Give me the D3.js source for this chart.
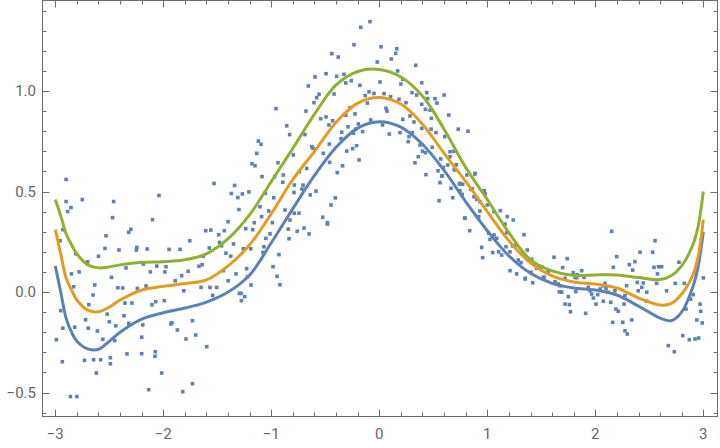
<!DOCTYPE html>
<html>
  <head>
    <meta charset="UTF-8" />
    <title>Quantile regression curves</title>
    <script src="https://d3js.org/d3.v7.min.js"></script>
    <style>
      body {
        margin: 0;
        background: #fff;
      }
      text {
        font-family: Roboto, 'Noto Sans', sans-serif;
      }
    </style>
  </head>

  <body>
    <div id="main"></div>
    <script type="text/javascript">
      const width = 720;
      const height = 448;

      // sample points
      const points = [
        [-2.9, 0.56], [-2.9, 0.45], [-2.885, 0.4], [-2.855, 0.42], [-2.75, 0.46],
        [-2.47, 0.37], [-2.46, 0.45], [-2.1, 0.36], [-2.04, 0.48], [-1.53, 0.54],
        [-1.34, 0.53], [-1.37, 0.49], [-1.31, 0.47], [-1.3, 0.41], [-1.4, 0.35],
        [-2.956, 0.255], [-2.99, -0.237], [-2.95, -0.093], [-2.93, -0.18], [-2.935, -0.347],
        [-2.86, -0.52], [-2.8, -0.52], [-2.85, 0.09], [-2.83, 0.026], [-2.78, 0.1],
        [-2.81, 0.19], [-2.82, -0.175], [-2.73, -0.34], [-2.7, 0.15], [-2.69, -0.063],
        [-2.72, -0.138], [-2.695, -0.18], [-2.65, -0.015], [-2.635, 0.035], [-2.645, -0.337],
        [-2.62, -0.403], [-2.61, -0.194], [-2.6, 0.178], [-2.58, -0.337], [-2.56, -0.235],
        [-2.54, 0.217], [-2.53, 0.28], [-2.52, -0.11], [-2.5, -0.148], [-2.49, -0.327],
        [-2.49, -0.357], [-2.48, 0.073], [-2.45, -0.242], [-2.44, -0.168], [-2.41, 0.209],
        [-2.42, 0.021], [-2.376, 0.02], [-2.364, -0.118], [-2.355, -0.055], [-2.345, 0.12],
        [-2.336, -0.308], [-2.32, -0.156], [-2.32, 0.297], [-2.3, 0.312], [-2.29, -0.055],
        [-2.25, 0.209], [-2.245, 0.222], [-2.24, 0.018], [-2.2, -0.307], [-2.2, -0.225],
        [-2.19, -0.164], [-2.185, 0.139], [-2.16, 0.03], [-2.15, 0.214], [-2.135, -0.486],
        [-2.12, 0.1], [-2.105, -0.063], [-2.077, -0.32], [-2.074, -0.297], [-2.07, -0.048],
        [-2.06, 0.129], [-2.015, -0.403], [-1.99, -0.043], [-1.985, 0.1], [-1.975, 0.126],
        [-1.947, 0.212], [-1.93, -0.159], [-1.92, -0.153], [-1.89, 0.056], [-1.87, -0.189],
        [-1.845, 0.212], [-1.83, 0.081], [-1.82, -0.496], [-1.81, 0.006], [-1.79, -0.234],
        [-1.77, 0.103], [-1.755, 0.255], [-1.73, -0.456], [-1.73, -0.143], [-1.7, -0.214],
        [-1.67, 0.128], [-1.65, 0.023], [-1.64, 0.136], [-1.63, 0.178], [-1.607, 0.305],
        [-1.598, -0.272], [-1.574, 0.219], [-1.568, 0.023], [-1.56, 0.308], [-1.543, -0.017],
        [-1.506, 0.023], [-1.487, 0.285], [-1.48, 0.247], [-1.46, 0.23], [-1.444, 0.106],
        [-1.435, 0.305], [-1.42, 0.193], [-1.4, 0.056], [-1.376, 0.178], [-1.35, 0.239],
        [-1.327, 0.09], [-1.296, -0.007], [-2.93, 0.31],
        [-1.237, 0.315], [-1.172, 0.31], [-1.26, 0.215], [-1.19, 0.215], [-1.228, 0.116],
        [-1.22, 0.076], [-1.188, 0.035], [-1.28, -0.007], [-1.246, -0.023], [-1.277, -0.043],
        [-1.05, 0.267], [-1.068, 0.225], [-1.077, 0.197], [-1.012, 0.289], [-0.929, 0.186],
        [-0.984, 0.126], [-0.947, 0.078], [-0.92, 0.036], [-0.843, 0.313], [-0.836, 0.265],
        [-0.76, 0.302], [-0.697, 0.318], [-0.65, 0.289], [-0.48, 0.338], [0.837, 0.305],
        [-0.086, 1.345], [-0.172, 1.317], [-0.234, 1.23], [-0.44, 1.186], [-0.38, 1.169],
        [0.016, 1.22], [0.161, 1.21], [0.152, 1.187], [0.111, 1.159], [-0.019, 1.144],
        [0.337, 1.128], [0.17, 1.1], [-0.493, 1.086], [-0.595, 1.07], [-0.395, 1.073],
        [-0.327, 1.083], [-0.26, 1.051], [-0.31, 1.04], [0.007, 1.045], [0.217, 1.058],
        [0.393, 1.041], [-0.657, 1.025], [-0.18, 1.028], [-0.095, 0.996], [-0.049, 0.988],
        [-0.13, 0.977], [-0.558, 0.984], [-0.58, 0.967], [-0.605, 0.942], [-0.419, 0.985],
        [-0.111, 0.94], [0.044, 0.987], [0.105, 0.972], [0.182, 0.959], [0.247, 0.942],
        [0.303, 0.992], [0.346, 0.98], [0.439, 0.992], [0.448, 0.962], [0.516, 0.962],
        [0.6, 0.98], [0.393, 0.934], [0.427, 0.909], [0.534, 0.94], [0.062, 0.914],
        [0.071, 0.9], [-0.956, 0.912], [-0.679, 0.9], [-0.493, 0.871], [-0.543, 0.862],
        [-0.432, 0.852], [-0.271, 0.917], [-0.225, 0.886], [-0.194, 0.836], [-0.29, 0.822],
        [-0.216, 0.811], [-0.154, 0.798], [-0.08, 0.856], [0.03, 0.831], [0.093, 0.786],
        [0.217, 0.859], [0.284, 0.876], [0.321, 0.846], [0.192, 0.793], [0.275, 0.773],
        [0.306, 0.793], [0.268, 0.748], [0.393, 0.814], [0.482, 0.864], [0.525, 0.793],
        [0.643, 0.88], [0.731, 0.81], [0.821, 0.8], [0.606, 0.773], [0.655, 0.698],
        [0.713, 0.633], [-0.857, 0.827], [-0.83, 0.783], [-0.688, 0.783], [-0.466, 0.831],
        [-0.348, 0.795], [-0.355, 0.763], [-0.302, 0.701], [-0.247, 0.713], [-0.21, 0.728],
        [-0.188, 0.657], [-0.463, 0.736], [-0.626, 0.723], [-0.614, 0.715], [-0.519, 0.69],
        [-0.34, 0.628], [-0.389, 0.594], [-0.796, 0.682], [-0.938, 0.643], [-1.179, 0.638],
        [-1.151, 0.628], [-1.135, 0.69], [-1.12, 0.751], [-1.095, 0.735], [-1.086, 0.574],
        [-1.207, 0.498], [-1.268, 0.488], [-0.969, 0.574], [-0.894, 0.546], [-0.889, 0.582],
        [-1.056, 0.491], [-0.978, 0.469], [-1.105, 0.424], [-1.024, 0.403], [-1.158, 0.345],
        [-0.787, 0.532], [-0.706, 0.532], [-0.716, 0.512], [-0.74, 0.599], [-0.672, 0.615],
        [-0.639, 0.483], [-0.586, 0.502], [-0.407, 0.468], [-0.447, 0.433], [-0.524, 0.372],
        [-0.481, 0.345], [-0.873, 0.408], [-0.827, 0.358], [-0.787, 0.392], [-0.744, 0.392],
        [-0.99, 0.345], [-1.09, 0.375], [-0.79, 0.495], [-0.24, 0.79], [-0.31, 0.88],
        [-0.46, 0.645],
        [0.886, 0.59], [0.432, 0.584], [0.33, 0.643], [0.361, 0.673], [0.377, 0.731],
        [0.544, 0.603], [0.562, 0.544], [0.584, 0.579], [0.553, 0.454], [0.664, 0.516],
        [0.68, 0.469], [0.747, 0.541], [0.766, 0.486], [0.796, 0.367], [0.861, 0.514],
        [0.877, 0.474], [0.932, 0.449], [0.694, 0.61], [0.427, 0.693],
        [0.2, 1.035], [0.47, 0.905], [0.48, 0.81], [0.49, 0.72], [0.69, 0.7], [0.655, 0.673],
        [0.4, 0.701], [0.568, 0.662], [0.578, 0.577], [0.593, 0.62], [0.633, 0.632],
        [0.7, 0.607], [0.741, 0.537], [0.772, 0.536], [0.81, 0.582], [0.886, 0.587],
        [0.747, 0.504], [0.763, 0.483], [0.847, 0.511], [0.902, 0.461], [0.972, 0.502],
        [0.981, 0.488], [1.0, 0.433], [0.932, 0.403], [1.062, 0.4], [1.12, 0.405],
        [1.185, 0.375], [1.24, 0.358], [1.164, 0.338], [0.92, 0.375], [0.79, 0.368],
        [1.013, 0.292], [1.062, 0.284], [1.025, 0.262], [1.087, 0.267], [1.18, 0.295],
        [1.34, 0.285], [0.948, 0.222], [0.957, 0.171], [1.05, 0.196], [1.105, 0.2],
        [1.133, 0.184], [1.173, 0.225], [1.235, 0.229], [1.266, 0.234], [1.21, 0.2],
        [1.37, 0.209], [1.287, 0.159], [1.312, 0.146], [1.21, 0.106], [1.272, 0.09],
        [1.352, 0.068], [1.411, 0.163], [1.42, 0.046], [1.457, 0.118], [1.503, 0.126],
        [1.525, 0.073], [1.565, 0.101], [1.618, 0.173], [1.627, 0.051], [1.657, 0.04],
        [1.667, 0.001], [1.698, 0.121], [1.72, 0.068], [1.74, 0.166], [1.75, -0.023],
        [1.796, 0.096], [1.828, 0.071], [1.82, 0.002], [0.972, 0.504],
        [1.35, 0.065], [1.405, 0.098], [1.488, 0.123], [1.519, 0.073], [1.673, 0.031],
        [1.689, -0.001], [1.72, -0.06], [1.76, -0.063], [1.77, -0.098], [1.812, 0.073],
        [1.833, 0.086], [1.874, 0.106], [1.895, 0.073], [1.911, -0.106], [1.935, 0.023],
        [1.951, 0.006], [1.966, -0.01], [1.982, -0.03], [2.006, -0.06], [2.022, -0.013],
        [2.044, 0.015], [2.074, 0.031], [2.09, 0.043], [2.099, 0.018], [2.118, -0.001],
        [2.074, -0.046], [2.152, 0.302], [2.167, 0.123], [2.143, -0.051], [2.161, -0.151],
        [2.182, 0.006], [2.198, 0.176], [2.191, -0.085], [2.213, -0.096], [2.254, -0.151],
        [2.266, -0.06], [2.275, -0.193], [2.296, -0.209], [2.29, 0.031], [2.275, -0.018],
        [2.315, 0.136], [2.337, -0.139], [2.346, 0.109], [2.367, 0.151], [2.389, 0.048],
        [2.398, 0.006], [2.414, 0.198], [2.43, 0.023], [2.444, 0.045], [2.476, -0.001],
        [2.476, -0.046], [2.531, 0.198], [2.553, 0.255], [2.543, 0.123], [2.568, 0.043],
        [2.586, 0.126], [2.614, 0.126], [2.576, 0.09], [2.66, 0.006], [2.676, -0.267],
        [2.732, -0.297], [2.74, 0.043], [2.775, 0.148], [2.81, -0.217], [2.824, 0.043],
        [2.84, -0.085], [2.87, -0.237], [2.883, -0.035], [2.907, -0.013], [2.923, -0.234],
        [2.94, -0.139], [2.957, -0.229], [2.97, -0.06], [2.976, -0.096], [2.99, -0.154],
        [3.0, 0.07]
      ];

      // fitted quantile curves, sampled at curveX
      const curveX = [-3, -2.95, -2.9, -2.85, -2.8, -2.7, -2.6, -2.5, -2.4, -2.2, -2,
        -1.8, -1.6, -1.4, -1.2, -1, -0.8, -0.6, -0.4, -0.2, 0, 0.2, 0.4, 0.6, 0.8,
        1, 1.2, 1.4, 1.6, 1.8, 2, 2.2, 2.4, 2.6, 2.7, 2.8, 2.9, 2.95, 3];
      const lowQ = [0.13, 0.0, -0.13, -0.2, -0.245, -0.283, -0.285, -0.245, -0.2, -0.135, -0.103,
        -0.08, -0.05, 0.0, 0.085, 0.245, 0.415, 0.58, 0.72, 0.815, 0.847, 0.82, 0.735, 0.605, 0.45,
        0.305, 0.18, 0.093, 0.043, 0.02, 0.01, -0.015, -0.07, -0.13, -0.143, -0.1, 0.02, 0.12, 0.3];
      const midQ = [0.31, 0.19, 0.07, 0.01, -0.04, -0.09, -0.098, -0.075, -0.04, 0.01, 0.028,
        0.042, 0.06, 0.13, 0.235, 0.39, 0.56, 0.7, 0.845, 0.94, 0.968, 0.935, 0.835, 0.69, 0.55,
        0.4, 0.255, 0.145, 0.08, 0.05, 0.04, 0.02, -0.03, -0.065, -0.058, -0.01, 0.08, 0.17, 0.36];
      const highQ = [0.46, 0.38, 0.29, 0.235, 0.19, 0.135, 0.12, 0.125, 0.135, 0.148, 0.151,
        0.16, 0.19, 0.265, 0.385, 0.55, 0.715, 0.885, 1.03, 1.097, 1.107, 1.07, 0.975, 0.81, 0.62,
        0.46, 0.295, 0.16, 0.105, 0.082, 0.085, 0.085, 0.072, 0.062, 0.08, 0.13, 0.23, 0.32, 0.5];

      const xTicks = [-3, -2, -1, 0, 1, 2, 3];
      const yTicks = [-0.5, 0, 0.5, 1.0];

      const frame = { left: 42.5, right: 717.5, top: 0.5, bottom: 416.5 };

      const x = d3.scaleLinear().domain([-3, 3]).range([55.3, 703.3]);
      const y = d3.scaleLinear().domain([0, 1]).range([292, 91]);

      const svg = d3
        .select('div#main')
        .append('svg')
        .attr('width', width)
        .attr('height', height);

      svg
        .append('clipPath')
        .attr('id', 'plotClip')
        .append('rect')
        .attr('x', frame.left)
        .attr('y', frame.top)
        .attr('width', frame.right - frame.left)
        .attr('height', frame.bottom - frame.top);

      const plot = svg.append('g').attr('clip-path', 'url(#plotClip)');

      plot
        .selectAll('rect.pt')
        .data(points)
        .join('rect')
        .attr('class', 'pt')
        .attr('x', (d) => x(d[0]) - 1.8)
        .attr('y', (d) => y(d[1]) - 1.8)
        .attr('width', 3.6)
        .attr('height', 3.6)
        .attr('fill', '#5E81B5');

      const line = d3
        .line()
        .x((d) => x(d[0]))
        .y((d) => y(d[1]))
        .curve(d3.curveCatmullRom.alpha(0.5));

      const curves = [
        { values: lowQ, color: '#5E81B5' },
        { values: midQ, color: '#E19C24' },
        { values: highQ, color: '#8FB032' }
      ];

      curves.forEach((c) => {
        plot
          .append('path')
          .datum(curveX.map((v, i) => [v, c.values[i]]))
          .attr('d', line)
          .attr('fill', 'none')
          .attr('stroke', c.color)
          .attr('stroke-width', 3)
          .attr('stroke-linejoin', 'round');
      });

      // frame with inward ticks on all four sides
      const axisColor = '#6d6d6d';
      svg
        .append('rect')
        .attr('x', frame.left)
        .attr('y', frame.top)
        .attr('width', frame.right - frame.left)
        .attr('height', frame.bottom - frame.top)
        .attr('fill', 'none')
        .attr('stroke', axisColor)
        .attr('stroke-width', 1);

      const minorX = d3.range(-30, 31, 2).map((v) => v / 10);
      const minorY = d3.range(-6, 15, 1).map((v) => v / 10);
      const isMajorX = (v) => Math.abs(v - Math.round(v)) < 1e-6;
      const isMajorY = (v) => Math.abs(v * 2 - Math.round(v * 2)) < 1e-6;

      const ticks = svg.append('g').attr('stroke', axisColor).attr('stroke-width', 1);
      minorX.forEach((v) => {
        const len = isMajorX(v) ? 7 : 4;
        const px = Math.round(x(v)) + 0.5;
        ticks.append('line').attr('x1', px).attr('x2', px)
          .attr('y1', frame.bottom).attr('y2', frame.bottom - len);
        ticks.append('line').attr('x1', px).attr('x2', px)
          .attr('y1', frame.top).attr('y2', frame.top + len);
      });
      minorY.forEach((v) => {
        const len = isMajorY(v) ? 7 : 4;
        const py = Math.round(y(v)) + 0.5;
        ticks.append('line').attr('y1', py).attr('y2', py)
          .attr('x1', frame.left).attr('x2', frame.left + len);
        ticks.append('line').attr('y1', py).attr('y2', py)
          .attr('x1', frame.right).attr('x2', frame.right - len);
      });

      const fmtX = (v) => (v < 0 ? '\u2212' + Math.abs(v) : String(v));
      const fmtY = (v) => (v < 0 ? '\u2212' : '') + d3.format('.1f')(Math.abs(v));

      svg
        .selectAll('text.xl')
        .data(xTicks)
        .join('text')
        .attr('class', 'xl')
        .attr('x', (d) => x(d))
        .attr('y', 439)
        .attr('text-anchor', 'middle')
        .attr('font-size', 15)
        .attr('fill', '#666')
        .text(fmtX);

      svg
        .selectAll('text.yl')
        .data(yTicks)
        .join('text')
        .attr('class', 'yl')
        .attr('x', 36)
        .attr('y', (d) => y(d) + 5)
        .attr('text-anchor', 'end')
        .attr('font-size', 15)
        .attr('fill', '#666')
        .text(fmtY);
    </script>
  </body>
</html>
